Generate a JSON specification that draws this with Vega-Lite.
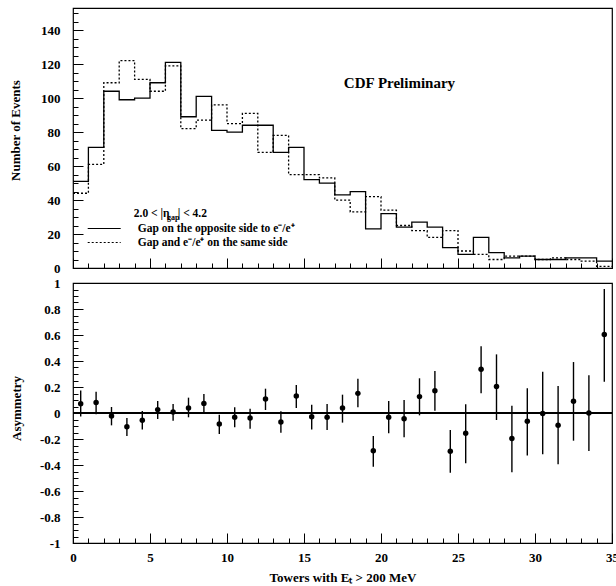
{
  "$schema": "https://vega.github.io/schema/vega-lite/v6.json",
  "padding": {"left": 8, "top": 7, "right": 4, "bottom": 0},
  "spacing": 0,
  "datasets": {
    "hist": [
      {"lo": 0, "hi": 1, "opp": 51, "same": 44},
      {"lo": 1, "hi": 2, "opp": 71, "same": 61},
      {"lo": 2, "hi": 3, "opp": 104, "same": 109},
      {"lo": 3, "hi": 4, "opp": 99, "same": 122},
      {"lo": 4, "hi": 5, "opp": 100, "same": 111},
      {"lo": 5, "hi": 6, "opp": 109, "same": 104},
      {"lo": 6, "hi": 7, "opp": 121, "same": 119},
      {"lo": 7, "hi": 8, "opp": 89, "same": 82},
      {"lo": 8, "hi": 9, "opp": 101, "same": 87},
      {"lo": 9, "hi": 10, "opp": 81, "same": 96},
      {"lo": 10, "hi": 11, "opp": 80, "same": 85},
      {"lo": 11, "hi": 12, "opp": 84, "same": 91},
      {"lo": 12, "hi": 13, "opp": 84, "same": 68},
      {"lo": 13, "hi": 14, "opp": 68, "same": 78},
      {"lo": 14, "hi": 15, "opp": 71, "same": 55},
      {"lo": 15, "hi": 16, "opp": 52, "same": 55},
      {"lo": 16, "hi": 17, "opp": 50, "same": 53},
      {"lo": 17, "hi": 18, "opp": 43, "same": 40},
      {"lo": 18, "hi": 19, "opp": 45, "same": 33},
      {"lo": 19, "hi": 20, "opp": 23, "same": 42},
      {"lo": 20, "hi": 21, "opp": 32, "same": 34},
      {"lo": 21, "hi": 22, "opp": 24, "same": 25},
      {"lo": 22, "hi": 23, "opp": 27, "same": 22},
      {"lo": 23, "hi": 24, "opp": 24, "same": 18},
      {"lo": 24, "hi": 25, "opp": 12, "same": 22},
      {"lo": 25, "hi": 26, "opp": 8, "same": 10},
      {"lo": 26, "hi": 27, "opp": 18, "same": 8},
      {"lo": 27, "hi": 28, "opp": 9, "same": 5},
      {"lo": 28, "hi": 29, "opp": 6, "same": 7},
      {"lo": 29, "hi": 30, "opp": 7, "same": 7},
      {"lo": 30, "hi": 31, "opp": 5, "same": 5},
      {"lo": 31, "hi": 32, "opp": 5, "same": 6},
      {"lo": 32, "hi": 33, "opp": 6, "same": 5},
      {"lo": 33, "hi": 34, "opp": 6, "same": 4},
      {"lo": 34, "hi": 35, "opp": 4, "same": 1}
    ],
    "asym": [
      {"x": 0.5, "a": 0.072, "lo": -0.026, "hi": 0.174},
      {"x": 1.5, "a": 0.08, "lo": -0.01, "hi": 0.164},
      {"x": 2.5, "a": -0.023, "lo": -0.095, "hi": 0.046},
      {"x": 3.5, "a": -0.105, "lo": -0.177, "hi": -0.038},
      {"x": 4.5, "a": -0.056, "lo": -0.126, "hi": 0.015},
      {"x": 5.5, "a": 0.026, "lo": -0.046, "hi": 0.092},
      {"x": 6.5, "a": 0.008, "lo": -0.059, "hi": 0.069},
      {"x": 7.5, "a": 0.038, "lo": -0.033, "hi": 0.118},
      {"x": 8.5, "a": 0.074, "lo": -0.003, "hi": 0.146},
      {"x": 9.5, "a": -0.085, "lo": -0.162, "hi": -0.013},
      {"x": 10.5, "a": -0.033, "lo": -0.11, "hi": 0.044},
      {"x": 11.5, "a": -0.038, "lo": -0.121, "hi": 0.033},
      {"x": 12.5, "a": 0.108, "lo": 0.023, "hi": 0.187},
      {"x": 13.5, "a": -0.069, "lo": -0.151, "hi": 0.013},
      {"x": 14.5, "a": 0.131, "lo": 0.038, "hi": 0.215},
      {"x": 15.5, "a": -0.028, "lo": -0.126, "hi": 0.064},
      {"x": 16.5, "a": -0.033, "lo": -0.131, "hi": 0.069},
      {"x": 17.5, "a": 0.038, "lo": -0.074, "hi": 0.141},
      {"x": 18.5, "a": 0.151, "lo": 0.044, "hi": 0.264},
      {"x": 19.5, "a": -0.29, "lo": -0.413, "hi": -0.177},
      {"x": 20.5, "a": -0.033, "lo": -0.156, "hi": 0.092},
      {"x": 21.5, "a": -0.044, "lo": -0.187, "hi": 0.1},
      {"x": 22.5, "a": 0.126, "lo": -0.018, "hi": 0.267},
      {"x": 23.5, "a": 0.172, "lo": 0.018, "hi": 0.323},
      {"x": 24.5, "a": -0.295, "lo": -0.459, "hi": -0.131},
      {"x": 25.5, "a": -0.156, "lo": -0.387, "hi": 0.067},
      {"x": 26.5, "a": 0.336, "lo": 0.151, "hi": 0.513},
      {"x": 27.5, "a": 0.203, "lo": -0.054, "hi": 0.451},
      {"x": 28.5, "a": -0.197, "lo": -0.456, "hi": 0.056},
      {"x": 29.5, "a": -0.064, "lo": -0.326, "hi": 0.19},
      {"x": 30.5, "a": -0.003, "lo": -0.318, "hi": 0.318},
      {"x": 31.5, "a": -0.095, "lo": -0.395, "hi": 0.208},
      {"x": 32.5, "a": 0.09, "lo": -0.213, "hi": 0.392},
      {"x": 33.5, "a": 0.0, "lo": -0.292, "hi": 0.29},
      {"x": 34.5, "a": 0.603, "lo": 0.241, "hi": 0.954}
    ]
  },
  "vconcat": [
    {
      "width": 539,
      "height": 260,
      "resolve": {"axis": {"x": "independent", "y": "independent"}},
      "layer": [
        {
          "data": {"name": "hist"},
          "transform": [
            {"fold": ["opp", "same"], "as": ["series", "n"]},
            {"fold": ["lo", "hi"], "as": ["edge", "xe"]}
          ],
          "mark": {"type": "line", "color": "black", "strokeWidth": 1.3, "strokeJoin": "miter"},
          "encoding": {
            "x": {
              "field": "xe", "type": "quantitative",
              "scale": {"domain": [0, 35], "nice": false, "zero": false},
              "axis": {
                "orient": "bottom", "title": null, "labels": false, "ticks": true, "tickSize": 5, "offset": -5,
                "values": [0,1,2,3,4,5,6,7,8,9,10,11,12,13,14,15,16,17,18,19,20,21,22,23,24,25,26,27,28,29,30,31,32,33,34,35]
              }
            },
            "y": {
              "field": "n", "type": "quantitative",
              "scale": {"domain": [0, 153], "nice": false},
              "axis": {
                "orient": "left", "title": null, "labels": false, "ticks": true, "tickSize": 5, "offset": -5,
                "values": [0,5,10,15,20,25,30,35,40,45,50,55,60,65,70,75,80,85,90,95,100,105,110,115,120,125,130,135,140,145,150]
              }
            },
            "strokeDash": {
              "field": "series", "type": "nominal",
              "scale": {"domain": ["opp", "same"], "range": [[1, 0], [2, 2]]},
              "legend": {
                "orient": "none", "legendX": 24.7, "legendY": 214,
                "title": null, "padding": 0,
                "symbolType": "M-3,0H3", "symbolSize": 121,
                "symbolStrokeColor": "black", "symbolStrokeWidth": 1.2,
                "labelOffset": 27, "rowPadding": 2,
                "labelFont": "Liberation Serif", "labelFontWeight": "bold", "labelFontSize": 11.5, "labelColor": "black",
                "labelLimit": 400,
                "labelExpr": "datum.label == 'opp' ? 'Gap on the opposite side to e\u207b/e\u207a' : 'Gap and e\u207b/e\u207a on the same side'"
              }
            },
            "order": [{"field": "xe", "type": "quantitative"}, {"field": "lo", "type": "quantitative"}]
          }
        },
        {
          "data": {"values": [{}]},
          "mark": {"type": "text", "font": "Liberation Serif", "fontWeight": "bold", "fontSize": 15, "align": "center", "baseline": "middle", "color": "black"},
          "encoding": {
            "x": {
              "datum": 21.2, "type": "quantitative",
              "axis": {
                "orient": "bottom", "title": null, "labels": false, "ticks": true, "tickSize": 10, "offset": -10,
                "values": [0, 5, 10, 15, 20, 25, 30, 35]
              }
            },
            "y": {
              "datum": 109, "type": "quantitative",
              "axis": {
                "orient": "left", "title": "Number of Events",
                "titleX": -68, "titleY": 122, "titleBaseline": "middle",
                "ticks": true, "tickSize": 10, "offset": -10, "labelPadding": 13, "labelOverlap": false, "labelFlush": false,
                "values": [0, 20, 40, 60, 80, 100, 120, 140]
              }
            },
            "text": {"value": "CDF Preliminary"}
          }
        },
        {
          "data": {"values": [{}]},
          "mark": {"type": "text", "font": "Liberation Serif", "fontWeight": "bold", "fontSize": 11.5, "align": "left", "baseline": "middle", "color": "black"},
          "encoding": {"x": {"datum": 3.95, "axis": null}, "y": {"datum": 31.7, "axis": null}, "text": {"value": "2.0 < |\u03b7"}}
        },
        {
          "data": {"values": [{}]},
          "mark": {"type": "text", "font": "Liberation Serif", "fontWeight": "bold", "fontSize": 8, "align": "left", "baseline": "middle", "color": "black"},
          "encoding": {"x": {"datum": 6.1, "axis": null}, "y": {"datum": 29.3, "axis": null}, "text": {"value": "gap"}}
        },
        {
          "data": {"values": [{}]},
          "mark": {"type": "text", "font": "Liberation Serif", "fontWeight": "bold", "fontSize": 11.5, "align": "left", "baseline": "middle", "color": "black"},
          "encoding": {"x": {"datum": 6.8, "axis": null}, "y": {"datum": 31.7, "axis": null}, "text": {"value": "| < 4.2"}}
        }
      ]
    },
    {
      "width": 539,
      "height": 260,
      "data": {"name": "asym"},
      "resolve": {"axis": {"x": "independent", "y": "independent"}},
      "layer": [
        {
          "mark": {"type": "rule", "color": "black", "strokeWidth": 1},
          "encoding": {"y": {"datum": 0, "type": "quantitative", "axis": null}}
        },
        {
          "mark": {"type": "rule", "color": "black", "strokeWidth": 1.4},
          "encoding": {
            "x": {
              "field": "x", "type": "quantitative",
              "scale": {"domain": [0, 35], "nice": false, "zero": false},
              "axis": {
                "orient": "bottom", "title": null, "labels": false, "ticks": true, "tickSize": 5, "offset": -5,
                "values": [0,1,2,3,4,5,6,7,8,9,10,11,12,13,14,15,16,17,18,19,20,21,22,23,24,25,26,27,28,29,30,31,32,33,34,35]
              }
            },
            "y": {
              "field": "lo", "type": "quantitative",
              "scale": {"domain": [-1, 1], "nice": false},
              "axis": {
                "orient": "left", "title": null, "labels": false, "ticks": true, "tickSize": 5, "offset": -5,
                "values": [-1,-0.95,-0.9,-0.85,-0.8,-0.75,-0.7,-0.65,-0.6,-0.55,-0.5,-0.45,-0.4,-0.35,-0.3,-0.25,-0.2,-0.15,-0.1,-0.05,0,0.05,0.1,0.15,0.2,0.25,0.3,0.35,0.4,0.45,0.5,0.55,0.6,0.65,0.7,0.75,0.8,0.85,0.9,0.95,1]
              }
            },
            "y2": {"field": "hi"}
          }
        },
        {
          "mark": {"type": "point", "filled": true, "color": "black", "size": 30, "opacity": 1},
          "encoding": {
            "x": {
              "field": "x", "type": "quantitative",
              "axis": {
                "orient": "bottom", "title": "Towers with E\u209c > 200 MeV",
                "titleY": 44.7, "titleBaseline": "middle",
                "ticks": true, "tickSize": 10, "offset": -10, "labelPadding": 8.5, "labelOverlap": false, "labelFlush": false,
                "values": [0, 5, 10, 15, 20, 25, 30, 35],
                "labelExpr": "'' + datum.value"
              }
            },
            "y": {
              "field": "a", "type": "quantitative",
              "axis": {
                "orient": "left", "title": "Asymmetry",
                "titleX": -67, "titleY": 125, "titleBaseline": "middle",
                "ticks": true, "tickSize": 10, "offset": -10, "labelPadding": 13, "labelOverlap": false, "labelFlush": false,
                "values": [-1, -0.8, -0.6, -0.4, -0.2, 0, 0.2, 0.4, 0.6, 0.8, 1],
                "labelExpr": "'' + datum.value"
              }
            }
          }
        }
      ]
    }
  ],
  "config": {
    "view": {"stroke": "black", "strokeWidth": 1.2},
    "axis": {
      "domain": false, "grid": false,
      "tickColor": "black", "tickWidth": 1, "tickOpacity": 1,
      "labelFont": "Liberation Serif", "labelFontWeight": "bold", "labelFontSize": 13, "labelColor": "black",
      "labelOverlap": false, "labelFlush": false,
      "titleFont": "Liberation Serif", "titleFontWeight": "bold", "titleFontSize": 13, "titleColor": "black"
    }
  }
}
